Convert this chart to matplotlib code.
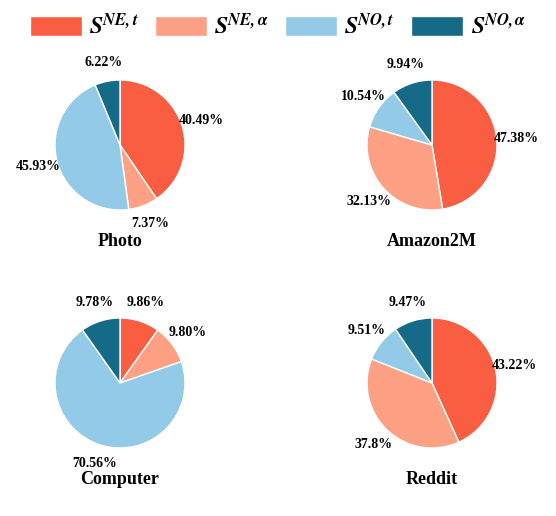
import matplotlib
matplotlib.use("Agg")
import matplotlib.pyplot as plt
from matplotlib.patches import Patch

plt.rcParams["font.family"] = "Liberation Serif"
plt.rcParams["mathtext.fontset"] = "stix"

COLORS = ["#F95D42", "#FDA083", "#93CAE7", "#156A87"]
LEGEND_LABELS = [r"$\mathbfit{S}^{\mathbfit{NE,t}}$", r"$\mathbfit{S}^{\mathbfit{NE,\alpha}}$",
                 r"$\mathbfit{S}^{\mathbfit{NO,t}}$", r"$\mathbfit{S}^{\mathbfit{NO,\alpha}}$"]

datasets = ["Photo", "Amazon2M", "Computer", "Reddit"]
photo = [40.49, 7.37, 45.93, 6.22]
amazon2m = [47.38, 32.13, 10.54, 9.94]
computer = [9.86, 9.80, 70.56, 9.78]
reddit = [43.22, 37.8, 9.51, 9.47]
pct_text = [
    ["40.49%", "7.37%", "45.93%", "6.22%"],
    ["47.38%", "32.13%", "10.54%", "9.94%"],
    ["9.86%", "9.80%", "70.56%", "9.78%"],
    ["43.22%", "37.8%", "9.51%", "9.47%"],
]

fig = plt.figure(figsize=(5.56, 5.16), dpi=100)
centers = [(120, 145), (432, 145), (120, 383), (432, 383)]
r = 65
for name, vals, texts, (cx, cy) in zip(datasets, [photo, amazon2m, computer, reddit], pct_text, centers):
    ax = fig.add_axes([(cx - r) / 556, 1 - (cy + r) / 516, 2 * r / 556, 2 * r / 516])
    wedges, labels = ax.pie(vals, colors=COLORS, startangle=90, counterclock=False,
                            wedgeprops=dict(edgecolor="white", linewidth=1.0),
                            labels=texts, labeldistance=1.3,
                            textprops=dict(fontsize=10, fontweight="bold", ha="center", va="center"))
    for t in labels:
        t.set_clip_on(False)
    ax.set_xlim(-1, 1)
    ax.set_ylim(-1, 1)
    ax.set_aspect("equal")
    fig.text(cx / 556, 1 - (cy + 97) / 516, name, ha="center", va="center",
             fontsize=13, fontweight="bold")

handles = [Patch(facecolor=c, edgecolor="white") for c in COLORS]
fig.legend(handles, LEGEND_LABELS, loc="upper center", bbox_to_anchor=(0.5, 1.015), ncol=4,
           frameon=False, fontsize=17, handlelength=2.2, handleheight=0.9,
           columnspacing=0.7, handletextpad=0.3)

fig.savefig("out.png", dpi=100)
